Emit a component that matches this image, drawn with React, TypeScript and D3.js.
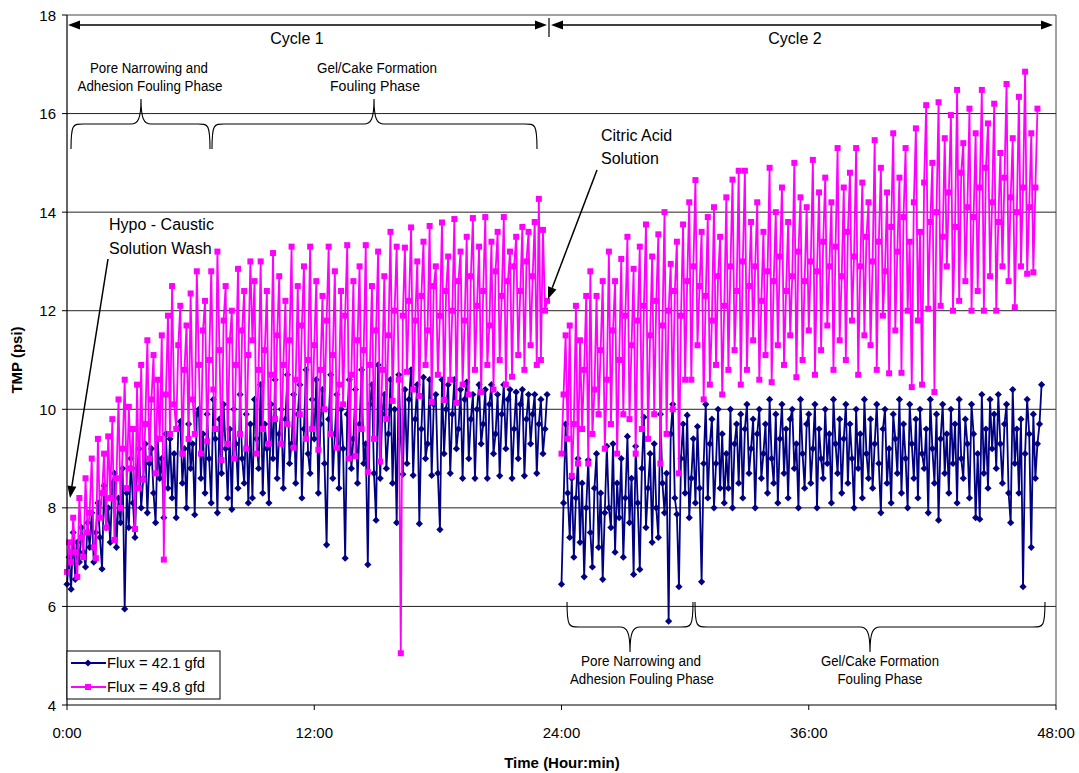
import React from "react";
import * as d3 from "d3";

// ---------- DATA ----------
const stepHours = 0.1; // sampling interval (6 min)
const cycle1Start = 0;
const cycle2Start = 24;

const blueCycle1 = [
  6.45, 7.0, 6.35, 7.5, 6.55, 7.3, 6.9, 7.6, 7.1, 6.8,
  7.7, 7.2, 7.9, 6.9, 7.5, 8.1, 7.4, 6.76, 8.45, 7.6,
  8.0, 7.3, 8.5, 8.7, 7.2, 8.2, 7.7, 8.8, 5.95, 8.3,
  7.6, 9.0, 8.1, 7.4, 8.8, 9.2, 8.0, 8.6, 9.3, 7.9,
  8.9, 9.2, 8.3, 7.7, 9.4, 8.6, 9.0, 7.8, 9.5, 8.4,
  9.4, 8.2, 9.1, 7.8, 9.6, 9.75, 8.5, 9.2, 8.0, 9.7,
  8.8, 9.3, 7.86, 9.9, 10.0, 8.6, 9.5, 8.3, 9.9, 9.0,
  8.1, 10.2, 9.4, 7.9, 9.8, 8.7, 10.1, 9.2, 8.2, 9.6,
  7.97, 10.0, 9.3, 8.4, 10.3, 9.0, 8.5, 9.9, 8.1, 9.7,
  8.2, 10.2, 9.4, 8.8, 10.5, 8.3, 9.7, 9.2, 8.1, 10.1,
  9.0, 10.6, 8.6, 9.5, 10.0, 8.4, 9.8, 10.7, 8.9, 9.3,
  10.3, 8.5, 9.9, 10.5, 8.2, 9.6, 10.8, 9.1, 8.7, 10.2,
  9.4, 10.6, 8.3, 9.7, 10.4, 8.9, 7.25, 9.8, 10.7, 8.6,
  9.5, 10.3, 8.4, 10.0, 9.2, 6.98, 9.9, 10.6, 8.8, 9.4,
  10.4, 8.5, 9.7, 10.8, 8.9, 9.3, 6.85, 10.1, 10.5, 8.7,
  7.75, 10.9, 8.6, 9.9, 10.3, 8.8, 9.5, 10.6, 8.5, 10.0,
  7.7, 10.7, 9.4, 8.68, 10.4, 8.9, 10.2, 10.8, 8.66, 9.8,
  10.5, 7.68, 9.6, 10.65, 9.0, 9.3, 10.6, 8.66, 10.1, 10.3,
  8.7, 7.56, 10.6, 9.1, 10.0, 10.5, 8.7, 9.9, 10.6, 9.2,
  9.6, 10.4, 8.6, 10.2, 10.55, 9.0, 9.8, 10.3, 8.6, 10.0,
  10.5, 9.3, 9.7, 10.4, 8.6, 10.1, 10.5, 9.1, 9.5, 10.3,
  8.65, 9.9, 10.5, 9.2, 10.2, 10.4, 8.6, 9.6, 10.35, 9.0,
  10.1, 10.4, 8.65, 9.8, 10.3, 9.3, 9.9, 10.3, 8.7, 9.7,
  10.2, 9.1, 9.6, 10.3,
];

const blueCycle2 = [
  6.45, 8.1, 9.7, 8.3, 7.4, 8.6, 7.0, 8.2, 9.0, 7.3,
  8.5, 6.6, 8.0, 8.97, 7.5, 6.8, 8.4, 9.1, 7.2, 8.3,
  6.55, 7.9, 9.25, 8.0, 7.6, 9.3, 7.1, 8.5, 7.8, 9.0,
  7.0, 8.2, 9.45, 7.7, 8.6, 6.65, 9.25, 8.1, 6.75, 8.8,
  9.84, 7.6, 8.4, 9.1, 7.3, 9.3, 8.0, 7.4, 9.9, 8.5,
  7.9, 8.7, 5.7, 9.5, 10.1, 8.2, 7.87, 6.4, 9.0, 9.7,
  8.3, 9.88, 7.8, 8.6, 9.4, 8.1, 9.65, 8.4, 6.5, 8.9,
  10.1, 8.2, 9.3, 9.8, 8.0, 8.9, 10.0, 8.4, 9.5, 8.1,
  9.1, 8.4, 10.0, 8.0, 9.3, 9.7, 8.5, 9.9, 8.2, 9.6,
  10.1, 8.7, 9.2, 9.8, 8.0, 9.5, 10.0, 8.6, 9.1, 9.7,
  8.3, 10.2, 9.0, 8.5, 9.9, 8.1, 9.4, 10.1, 8.7, 9.6,
  8.2, 9.8, 10.0, 8.8, 9.3, 8.0, 10.2, 9.1, 8.4, 9.7,
  9.9, 8.5, 9.2, 10.1, 8.0, 9.6, 9.0, 8.6, 10.0, 8.9,
  9.5, 8.1, 10.2, 9.3, 8.7, 9.8, 8.3, 9.4, 10.1, 8.5,
  9.7, 9.0, 8.0, 10.0, 8.8, 9.5, 8.2, 10.2, 9.1, 8.6,
  9.8, 8.4, 9.3, 10.1, 8.9, 7.9, 9.6, 10.0, 8.5, 9.2,
  8.1, 9.9, 9.4, 8.7, 10.2, 8.3, 9.7, 9.0, 8.0, 10.1,
  9.3, 8.6, 9.8, 8.2, 10.0, 9.1, 8.8, 9.6, 7.9, 10.2,
  9.2, 8.5, 9.9, 7.75, 9.4, 10.1, 8.7, 9.5, 8.3, 10.0,
  8.9, 9.7, 8.1, 10.2, 9.0, 8.6, 9.8, 9.3, 8.2, 10.1,
  9.5, 7.8, 9.1, 7.77, 10.3, 8.7, 9.6, 8.4, 10.2, 9.2,
  9.9, 8.8, 10.3, 9.3, 8.5, 9.7, 10.1, 8.3, 7.7, 10.4,
  8.9, 9.6, 8.3, 9.8, 6.4, 9.1, 10.2, 9.5, 7.2, 9.9,
  8.6, 9.3, 9.7, 10.5,
];

const pinkCycle1 = [
  6.7, 7.3, 6.9, 7.8, 7.1, 6.6, 8.2, 7.4, 7.0, 8.6,
  7.5, 7.9, 9.0, 7.2, 6.98, 9.4, 7.8, 8.3, 9.1, 7.6,
  9.45, 8.2, 9.8, 7.35, 8.6, 10.2, 8.0, 9.2, 10.6, 8.4,
  10.05, 8.8, 9.6, 7.57, 10.5, 8.4, 10.9, 8.57, 9.7, 11.4,
  9.0, 10.2, 11.1, 8.7, 10.6, 9.4, 11.5, 6.95, 10.3, 11.9,
  9.5, 12.5, 10.1, 9.6, 11.3, 12.1, 9.1, 10.8, 11.7, 9.4,
  12.35, 10.2, 9.5, 12.8, 10.9, 9.1, 11.6, 12.2, 9.35, 11.0,
  12.8, 10.4, 9.6, 13.2, 11.2, 8.97, 11.8, 12.5, 9.3, 11.4,
  12.0, 9.0, 10.9, 12.85, 9.5, 11.6, 12.4, 9.2, 11.1, 13.0,
  11.4, 12.6, 9.1, 10.8, 13.0, 9.6, 11.2, 12.4, 9.3, 10.7,
  13.17, 9.8, 11.5, 12.7, 9.3, 10.9, 12.2, 9.7, 11.4, 13.3,
  9.22, 10.6, 12.5, 9.9, 11.7, 12.9, 9.4, 11.0, 13.3, 9.6,
  11.3, 12.6, 9.18, 10.8, 12.3, 10.0, 11.8, 13.3, 9.5, 11.1,
  12.8, 9.22, 10.5, 12.4, 10.1, 11.9, 13.33, 9.0, 10.7, 12.6,
  9.05, 11.4, 12.9, 9.6, 11.2, 13.33, 8.73, 10.9, 12.5, 9.4,
  11.6, 13.2, 8.94, 10.8, 12.7, 9.8, 11.5, 13.6, 10.17, 12.0,
  13.3, 10.6, 5.05, 11.9, 13.28, 10.76, 12.2, 13.69, 10.4, 11.8,
  13.0, 10.27, 12.3, 13.4, 10.9, 11.6, 13.72, 10.15, 12.5, 12.9,
  10.7, 11.9, 13.79, 10.19, 12.4, 13.1, 10.6, 12.0, 13.86, 10.13,
  12.6, 13.2, 10.5, 11.8, 13.5, 10.3, 12.7, 13.88, 10.8, 12.1,
  13.3, 10.35, 12.4, 13.9, 10.9, 11.7, 13.4, 10.4, 12.8, 13.6,
  11.0, 12.3, 13.9, 10.5, 12.6, 13.2, 10.66, 12.9, 13.5, 11.1,
  12.4, 13.7, 10.8, 13.0, 13.6, 11.3, 12.7, 13.8, 10.9, 14.27,
  11.0, 13.64, 12.0, 12.2,
];

const pinkCycle2 = [
  9.1, 10.3, 11.5, 9.4, 11.7, 8.65, 9.7, 12.1, 8.9, 11.4,
  9.6, 10.8, 12.3, 8.9, 12.8, 9.5, 10.4, 12.3, 9.9, 11.2,
  12.6, 9.2, 10.6, 13.2, 9.7, 11.6, 12.6, 9.1, 11.0, 13.05,
  9.9, 11.9, 13.5, 9.8, 11.3, 12.85, 9.1, 11.8, 13.3, 9.6,
  12.1, 13.75, 9.4, 11.5, 13.1, 9.9, 12.2, 13.55, 8.9, 11.7,
  14.0, 9.5, 12.0, 12.95, 10.0, 12.4, 13.4, 8.7, 11.9, 13.75,
  10.6, 12.6, 14.2, 10.6, 12.9, 14.65, 11.3, 12.5, 13.6, 10.2,
  12.3, 13.9, 10.5, 11.8, 14.1, 10.9, 12.7, 13.5, 10.3, 12.1,
  14.3, 10.8, 12.9, 14.66, 11.2, 12.4, 14.84, 10.5, 13.0, 14.84,
  10.8, 12.5, 13.8, 11.4, 12.9, 14.2, 10.6, 12.2, 13.6, 11.1,
  12.8, 14.9, 10.55, 12.6, 14.0, 11.3, 13.1, 14.5, 10.9, 12.4,
  13.8, 11.5, 12.7, 15.0, 10.65, 13.2, 14.3, 11.0, 12.6, 14.1,
  11.6, 13.0, 15.06, 10.7, 12.8, 14.4, 11.2, 13.4, 14.7, 11.7,
  12.9, 14.2, 10.8, 13.3, 15.3, 11.4, 12.7, 14.5, 11.0, 13.6,
  14.8, 11.8, 13.1, 15.3, 10.7, 12.9, 14.6, 11.5, 13.5, 14.2,
  11.3, 13.0, 15.46, 10.8, 13.4, 14.9, 11.9, 12.8, 14.4, 10.73,
  13.7, 15.6, 11.6, 13.2, 14.7, 10.74, 13.9, 15.3, 12.0, 13.4,
  10.45, 14.2, 15.7, 11.8, 13.6, 10.5, 14.6, 16.17, 12.04, 13.8,
  15.0, 10.35, 14.0, 16.23, 12.1, 13.5, 15.5, 12.9, 14.4, 15.97,
  12.0, 13.7, 16.48, 12.2, 14.8, 15.4, 12.6, 14.1, 16.1, 12.0,
  13.9, 15.6, 12.4, 14.5, 16.48, 12.0, 14.9, 15.8, 12.7, 14.2,
  16.2, 12.0, 13.8, 15.2, 12.9, 14.7, 16.6, 12.6, 14.3, 15.5,
  12.07, 14.0, 16.34, 12.9, 14.5, 16.85, 12.75, 14.1, 15.6, 12.78,
  14.5, 16.1,
];

const seriesNames = ["Flux = 42.1 gfd", "Flux = 49.8 gfd"];
const seriesColors = ["#000080", "#FF00FF"];
const yTicks = [4, 6, 8, 10, 12, 14, 16, 18];
const yGrid = [6, 8, 10, 12, 14, 16];
const xTicks = [0, 12, 24, 36, 48];
const xTickLabels = ["0:00", "12:00", "24:00", "36:00", "48:00"];

// ---------- LAYOUT ----------
const W = 1079;
const H = 773;
const FONT = "'Liberation Sans', Arial, sans-serif";

const x = d3.scaleLinear().domain([0, 48]).range([67, 1056]);
const y = d3.scaleLinear().domain([4, 18]).range([705, 15]);

type Pt = { t: number; v: number };
const toPts = (vals: number[], start: number): Pt[] =>
  vals.map((v, i) => ({ t: start + i * stepHours, v }));

const line = d3
  .line<Pt>()
  .x((d) => x(d.t))
  .y((d) => y(d.v));

const diamond = (r: number) => `M0,${-r}L${r},0L0,${r}L${-r},0Z`;

function Series({ segs, color, kind }: { segs: Pt[][]; color: string; kind: "diamond" | "square" }) {
  return (
    <g>
      {segs.map((s, i) => (
        <path key={"l" + i} d={line(s) || ""} fill="none" stroke={color} strokeWidth={1.8} strokeLinejoin="round" />
      ))}
      {segs.map((s, i) =>
        s.map((d, j) =>
          kind === "diamond" ? (
            <path key={`m${i}-${j}`} d={diamond(3.6)} transform={`translate(${x(d.t)},${y(d.v)})`} fill={color} />
          ) : (
            <rect key={`m${i}-${j}`} x={x(d.t) - 3} y={y(d.v) - 3} width={6} height={6} fill={color} />
          )
        )
      )}
    </g>
  );
}

// curly brace: horizontal, tip direction dir (-1 = tip up, +1 = tip down)
function Brace({ x0, x1, xm, yh, dir }: { x0: number; x1: number; xm: number; yh: number; dir: number }) {
  const yEnd = yh - dir * 25;
  const yTip = yh + dir * 25;
  const r = 12;
  const d =
    `M${x0},${yEnd} C${x0},${yh} ${x0 + 2},${yh} ${x0 + r},${yh}` +
    ` L${xm - 10},${yh} C${xm - 3},${yh} ${xm},${yh + dir * 5} ${xm},${yTip}` +
    ` C${xm},${yh + dir * 5} ${xm + 3},${yh} ${xm + 10},${yh}` +
    ` L${x1 - r},${yh} C${x1 - 2},${yh} ${x1},${yh} ${x1},${yEnd}`;
  return <path d={d} fill="none" stroke="#000" strokeWidth={1.1} />;
}

function Arrow({ x1, y1, x2, y2 }: { x1: number; y1: number; x2: number; y2: number }) {
  const ang = Math.atan2(y2 - y1, x2 - x1);
  const L = 12;
  const Wd = 4.5;
  const bx = x2 - L * Math.cos(ang);
  const by = y2 - L * Math.sin(ang);
  const px = -Math.sin(ang) * Wd;
  const py = Math.cos(ang) * Wd;
  return (
    <g>
      <line x1={x1} y1={y1} x2={bx} y2={by} stroke="#000" strokeWidth={1.5} />
      <path d={`M${x2},${y2}L${bx + px},${by + py}L${bx - px},${by - py}Z`} fill="#000" />
    </g>
  );
}

function CondText({ cx, yb, text, len }: { cx: number; yb: number; text: string; len: number }) {
  return (
    <text x={cx - len / 2} y={yb} fontSize={14} textLength={len} lengthAdjust="spacingAndGlyphs">
      {text}
    </text>
  );
}

export default function App() {
  const blueSegs = [toPts(blueCycle1, cycle1Start), toPts(blueCycle2, cycle2Start)];
  const pinkSegs = [toPts(pinkCycle1, cycle1Start), toPts(pinkCycle2, cycle2Start)];

  return (
    <svg
      width={W}
      height={H}
      style={{ position: "absolute", left: 0, top: 0, display: "block", background: "#fff" }}
      fontFamily={FONT}
    >
      <rect x={0} y={0} width={W} height={H} fill="#fff" />
      {yGrid.map((g) => (
        <line key={g} x1={x(0)} x2={x(48)} y1={y(g)} y2={y(g)} stroke="#222" strokeWidth={1} />
      ))}
      <line x1={x(0)} x2={x(48)} y1={y(18)} y2={y(18)} stroke="#444" strokeWidth={1} />
      <line x1={x(48)} x2={x(48)} y1={y(18)} y2={y(4)} stroke="#444" strokeWidth={1} />

      <Series segs={blueSegs} color={seriesColors[0]} kind="diamond" />
      <Series segs={pinkSegs} color={seriesColors[1]} kind="square" />

      <line x1={x(0)} x2={x(0)} y1={y(18)} y2={y(4)} stroke="#000" strokeWidth={1.2} />
      <line x1={x(0)} x2={x(48)} y1={y(4)} y2={y(4)} stroke="#000" strokeWidth={1.2} />
      {yTicks.map((t) => (
        <g key={t}>
          <line x1={x(0) - 5} x2={x(0)} y1={y(t)} y2={y(t)} stroke="#000" />
          <text x={56} y={y(t) + 5.5} fontSize={15} textAnchor="end">
            {t}
          </text>
        </g>
      ))}
      {xTicks.map((t, i) => (
        <g key={t}>
          <line x1={x(t)} x2={x(t)} y1={y(4)} y2={y(4) + 5} stroke="#000" />
          <text x={x(t)} y={738} fontSize={15} textAnchor="middle">
            {xTickLabels[i]}
          </text>
        </g>
      ))}
      <text x={562} y={768} fontSize={15} fontWeight="bold" textAnchor="middle">
        Time (Hour:min)
      </text>
      <text transform="translate(22,360) rotate(-90)" fontSize={15} fontWeight="bold" textAnchor="middle">
        TMP (psi)
      </text>

      <line x1={549} x2={549} y1={18} y2={37} stroke="#000" strokeWidth={1.2} />
      <Arrow x1={300} y1={25} x2={68} y2={25} />
      <Arrow x1={300} y1={25} x2={547} y2={25} />
      <Arrow x1={800} y1={25} x2={551} y2={25} />
      <Arrow x1={800} y1={25} x2={1053} y2={25} />
      <text x={297} y={44} fontSize={16} textAnchor="middle">
        Cycle 1
      </text>
      <text x={795} y={44} fontSize={16} textAnchor="middle">
        Cycle 2
      </text>

      <Brace x0={71} x1={210} xm={141} yh={124} dir={-1} />
      <Brace x0={212} x1={537} xm={374} yh={124} dir={-1} />
      <CondText cx={149} yb={73} text="Pore Narrowing and" len={118} />
      <CondText cx={150} yb={91} text="Adhesion Fouling Phase" len={145} />
      <CondText cx={377} yb={73} text="Gel/Cake Formation" len={120} />
      <CondText cx={375} yb={91} text="Fouling Phase" len={90} />

      <Brace x0={567} x1={693} xm={630} yh={627} dir={1} />
      <Brace x0={695} x1={1045} xm={870} yh={627} dir={1} />
      <CondText cx={641} yb={666} text="Pore Narrowing and" len={120} />
      <CondText cx={642} yb={684} text="Adhesion Fouling Phase" len={144} />
      <CondText cx={880} yb={666} text="Gel/Cake Formation" len={118} />
      <CondText cx={880} yb={684} text="Fouling Phase" len={85} />

      <text x={109} y={230} fontSize={16}>
        Hypo - Caustic
      </text>
      <text x={109} y={254} fontSize={16}>
        Solution Wash
      </text>
      <Arrow x1={108} y1={259} x2={70} y2={498} />
      <text x={601} y={141} fontSize={16}>
        Citric Acid
      </text>
      <text x={601} y={164} fontSize={16}>
        Solution
      </text>
      <Arrow x1={597} y1={170} x2={548} y2={299} />

      <rect x={67} y={651} width={153} height={48} fill="#fff" stroke="#000" strokeWidth={1} />
      <line x1={71} x2={106} y1={663} y2={663} stroke={seriesColors[0]} strokeWidth={1.8} />
      <path d={diamond(3.6)} transform="translate(88,663)" fill={seriesColors[0]} />
      <text x={107} y={668} fontSize={14} textLength={98} lengthAdjust="spacingAndGlyphs">
        {seriesNames[0]}
      </text>
      <line x1={71} x2={106} y1={687} y2={687} stroke={seriesColors[1]} strokeWidth={1.8} />
      <rect x={85} y={684} width={6} height={6} fill={seriesColors[1]} />
      <text x={107} y={692} fontSize={14} textLength={98} lengthAdjust="spacingAndGlyphs">
        {seriesNames[1]}
      </text>
    </svg>
  );
}
